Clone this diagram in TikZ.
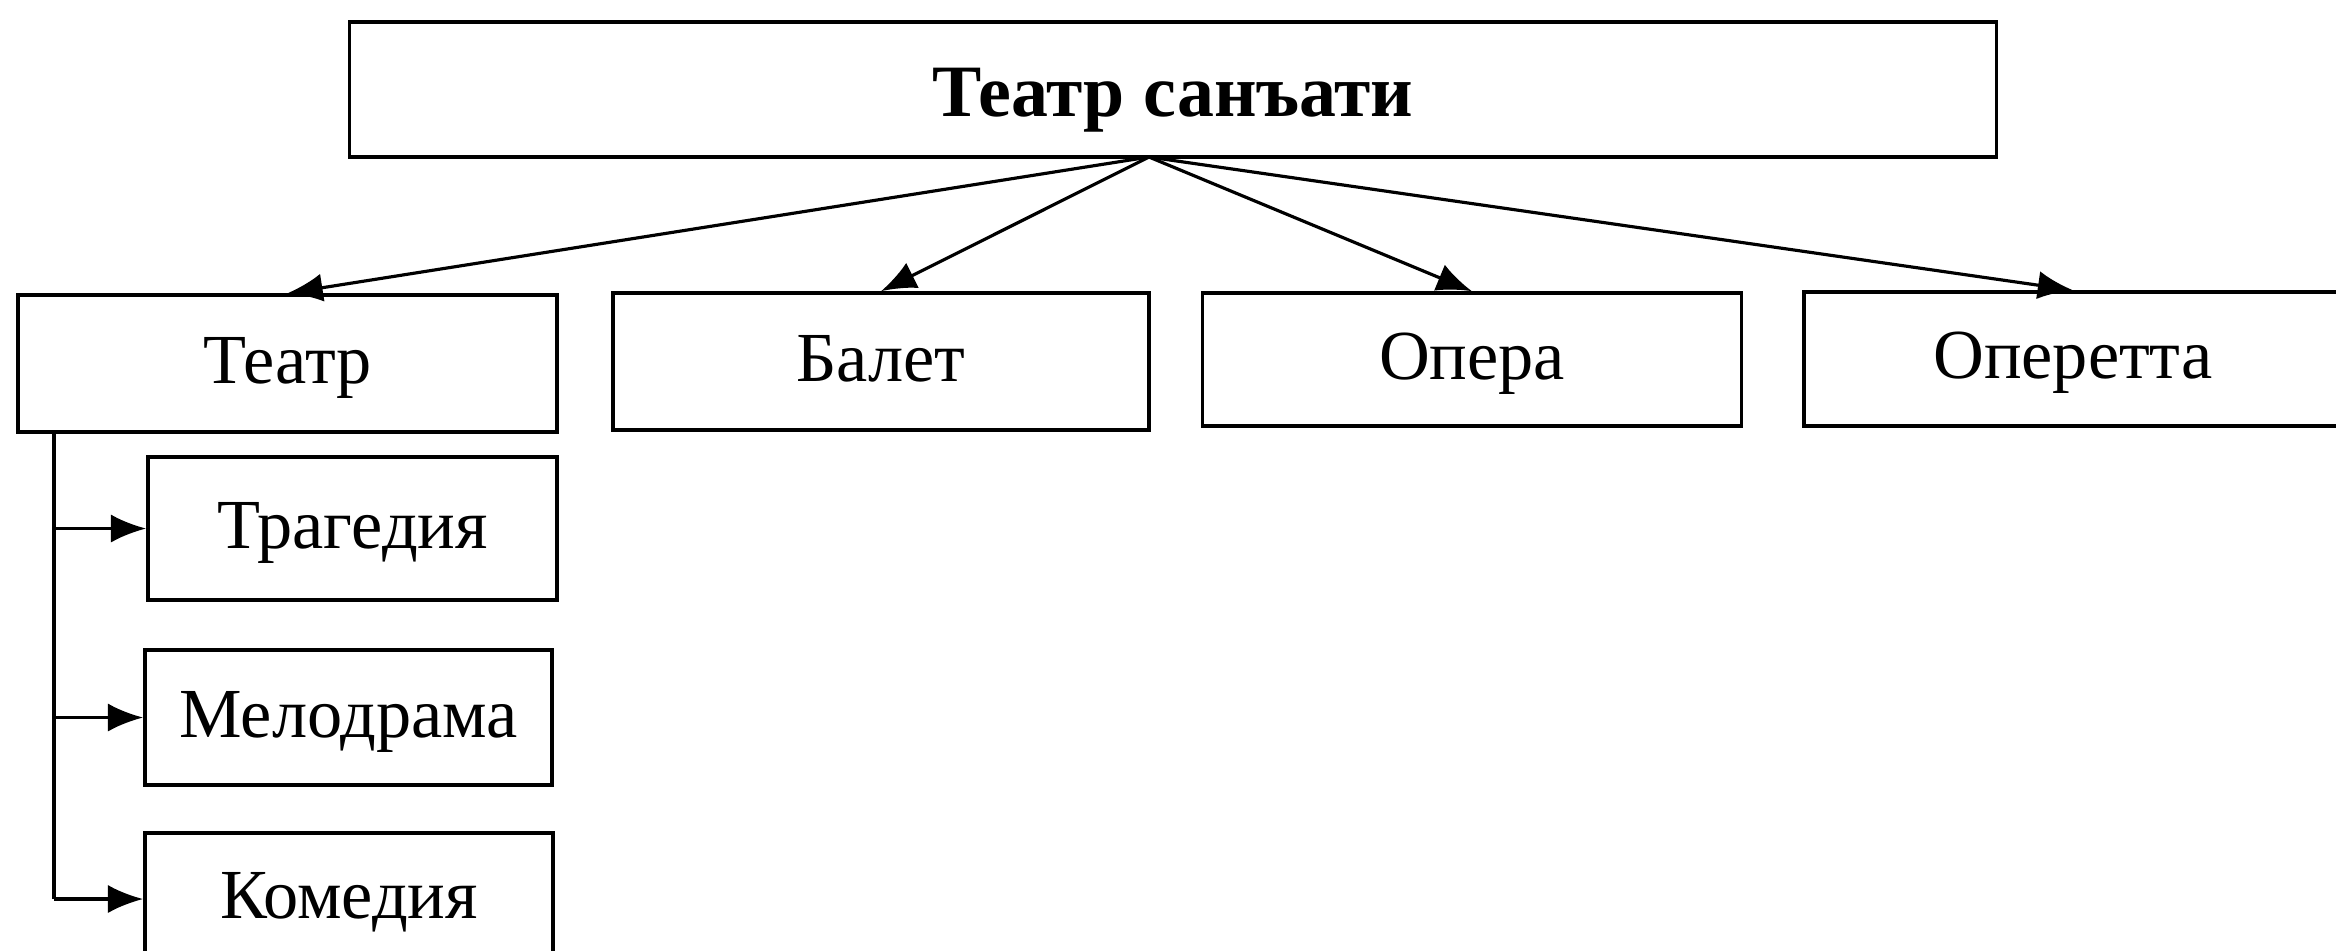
\documentclass[tikz,border=0pt]{standalone}
\usepackage{fontspec}
\setmainfont{Liberation Serif}
\usetikzlibrary{arrows.meta}
\begin{document}
\begin{tikzpicture}[x=0.01cm,y=-0.01cm,
  box/.style={draw=black,line width=1pt,inner sep=0pt,text height=15pt,text depth=3.8pt,font=\fontsize{20}{24}\selectfont},
  topbox/.style={box,text height=19pt,text depth=3.4pt,font=\fontsize{21}{25}\selectfont\bfseries},
  arr/.style={line width=0.9pt,-{Latex[length=10pt,width=8pt]}}]
\useasboundingbox (0,0) rectangle (2336,950);
\clip (0,0) rectangle (2336,950);
\node[topbox,minimum width=16.46cm,minimum height=1.35cm] (top) at (1173,89.5) {Театр санъати};
\node[box,minimum width=5.39cm,minimum height=1.37cm] (teatr) at (287.5,363.5) {Театр};
\node[box,minimum width=5.36cm,minimum height=1.37cm] (balet) at (881,361.5) {Балет};
\node[box,minimum width=5.39cm,minimum height=1.33cm] (opera) at (1472,359.5) {Опера};
\node[box,minimum width=5.38cm,minimum height=1.34cm] (operetta) at (2073,359) {Оперетта};
\node[box,minimum width=4.09cm,minimum height=1.43cm] (trag) at (352.5,528.5) {Трагедия};
\node[box,minimum width=4.07cm,minimum height=1.35cm] (melo) at (348.5,717.5) {Мелодрама};
\node[box,minimum width=4.08cm,minimum height=1.32cm] (kom) at (349,899) {Комедия};
\coordinate (src) at (1149,157);
\coordinate (vtop) at (54,432);
\draw[arr] (src) -- (teatr.north);
\draw[arr] (src) -- (balet.north);
\draw[arr] (src) -- (opera.north);
\draw[arr] (src) -- (operetta.north);
\draw[line width=0.9pt] (vtop) -- (vtop |- kom.west);
\draw[arr] (vtop |- trag.west) -- (trag.west);
\draw[arr] (vtop |- melo.west) -- (melo.west);
\draw[arr] (vtop |- kom.west) -- (kom.west);
\end{tikzpicture}
\end{document}
